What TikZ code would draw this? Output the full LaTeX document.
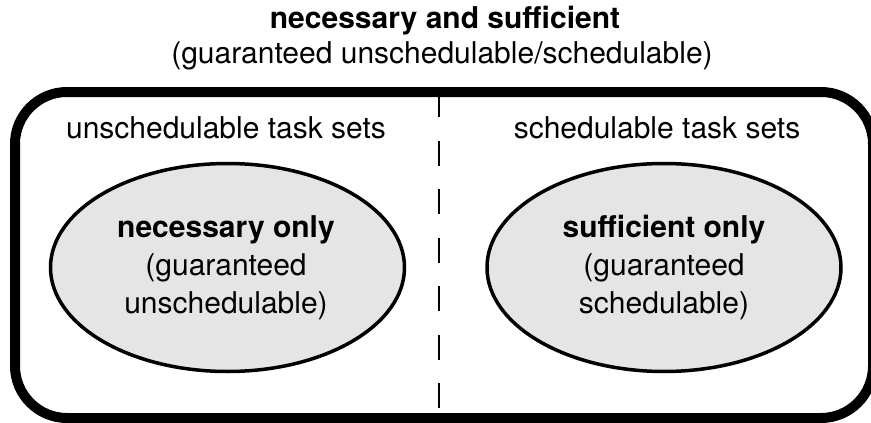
\documentclass[tikz,border=0pt]{standalone}
\usepackage{fontspec}
\setmainfont{TeX Gyre Heros}
\usetikzlibrary{shapes.geometric}
\begin{document}
\begin{tikzpicture}[x=1pt,y=-1pt,
  label text/.style={font=\fontsize{30}{37}\selectfont, inner sep=0pt, anchor=base},
  region/.style={draw=black, line width=10pt, rounded corners=52pt},
  divider/.style={draw=black, line width=1.3pt, dash pattern=on 25pt off 23.5pt},
  bubble/.style={ellipse, draw=black, line width=3.5pt, fill=black!10,
    minimum width=354pt, minimum height=208pt, inner sep=0pt},
  bubble text/.style={font=\fontsize{30}{38}\selectfont, align=center, inner sep=0pt}]
\useasboundingbox (0,0) rectangle (871,423);

% title above the frame
\node[label text, font=\bfseries\fontsize{30}{37}\selectfont] (title) at (445,28) {necessary and sufficient};
\node[label text] (subtitle) at (442,63) {(guaranteed unschedulable/schedulable)};

% outer frame (runs past the right and bottom edges)
\draw[region] (15,92) rectangle (873,418);

% dashed divider
\coordinate (divtop) at (439,92);
\coordinate (divbot) at (439,413);
\draw[divider] (divtop) -- (divbot);

% region headings
\node[label text] (unsched) at (226,138) {unschedulable task sets};
\node[label text] (sched) at (657,138) {schedulable task sets};

% inner ellipses
\node[bubble] (nec) at (227.5,267.5) {};
\node[bubble] (suf) at (664,267.5) {};

\node[label text, font=\bfseries\fontsize{30}{37}\selectfont] (necA) at (226,237) {necessary only};
\node[label text] (necB) at (226,275) {(guaranteed};
\node[label text] (necC) at (226,313) {unschedulable)};

\node[label text, font=\bfseries\fontsize{30}{37}\selectfont] (sufA) at (664,237) {sufficient only};
\node[label text] (sufB) at (664,275) {(guaranteed};
\node[label text] (sufC) at (664,313) {schedulable)};
\end{tikzpicture}
\end{document}
